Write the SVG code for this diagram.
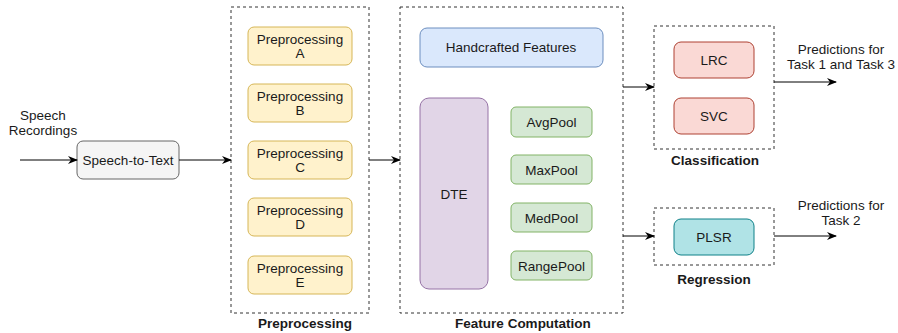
<svg xmlns="http://www.w3.org/2000/svg" width="898" height="333" viewBox="0 0 898 333">
  <style>
    text { font-family: "Liberation Sans", Arial, sans-serif; font-size: 13.5px; fill: #1a1a1a; text-anchor: middle; }
    .title { font-weight: bold; }
    .group { fill: none; stroke: #333; stroke-width: 1; stroke-dasharray: 3 3; }
    .stt { fill: #f5f5f5; stroke: #666; }
    .pre { fill: #fff2cc; stroke: #d6b656; }
    .hand { fill: #dae8fc; stroke: #6c8ebf; }
    .dte { fill: #e1d5e7; stroke: #9673a6; }
    .pool { fill: #d5e8d4; stroke: #82b366; }
    .cls { fill: #fad9d5; stroke: #ae4132; }
    .reg { fill: #b0e3e6; stroke: #0e8088; }
    .edge { fill: none; stroke: #000; stroke-width: 1; marker-end: url(#arrow); }
  </style>
  <defs>
    <marker id="arrow" viewBox="0 0 10 10" refX="9" refY="5" markerWidth="10" markerHeight="10" markerUnits="userSpaceOnUse" orient="auto">
      <path d="M0,1 L10,5 L0,9 L3,5 Z" fill="#000"/>
    </marker>
  </defs>

  <rect width="898" height="333" fill="#fff"/>

  <!-- input label -->
  <g id="input">
    <text x="43" y="120">Speech</text>
    <text x="43" y="135">Recordings</text>
  </g>

  <g id="speech-to-text">
    <rect class="stt" x="77" y="141" width="102" height="38" rx="6"/>
    <text x="128" y="165">Speech-to-Text</text>
  </g>

  <!-- preprocessing stage -->
  <g id="preprocessing">
    <rect class="group" x="231" y="7" width="138" height="306"/>
    <text class="title" x="305" y="328">Preprocessing</text>
  </g>
  <g id="pre-a">
    <rect class="pre" x="248" y="27" width="104" height="38" rx="6"/>
    <text x="300" y="44">Preprocessing</text>
    <text x="300" y="58">A</text>
  </g>
  <g id="pre-b">
    <rect class="pre" x="248" y="84" width="104" height="38" rx="6"/>
    <text x="300" y="101">Preprocessing</text>
    <text x="300" y="115">B</text>
  </g>
  <g id="pre-c">
    <rect class="pre" x="248" y="141" width="104" height="38" rx="6"/>
    <text x="300" y="158">Preprocessing</text>
    <text x="300" y="172">C</text>
  </g>
  <g id="pre-d">
    <rect class="pre" x="248" y="198" width="104" height="38" rx="6"/>
    <text x="300" y="215">Preprocessing</text>
    <text x="300" y="229">D</text>
  </g>
  <g id="pre-e">
    <rect class="pre" x="248" y="256" width="104" height="38" rx="6"/>
    <text x="300" y="273">Preprocessing</text>
    <text x="300" y="287">E</text>
  </g>

  <!-- feature computation stage -->
  <g id="feature-computation">
    <rect class="group" x="400" y="7" width="223" height="306"/>
    <text class="title" x="523" y="328">Feature Computation</text>
  </g>
  <g id="handcrafted">
    <rect class="hand" x="420" y="28" width="183" height="39" rx="7"/>
    <text x="511" y="52">Handcrafted Features</text>
  </g>
  <g id="dte">
    <rect class="dte" x="420" y="98" width="68" height="191" rx="9"/>
    <text x="454" y="199">DTE</text>
  </g>
  <g id="avgpool">
    <rect class="pool" x="511" y="107" width="81" height="30" rx="5"/>
    <text x="551.5" y="127">AvgPool</text>
  </g>
  <g id="maxpool">
    <rect class="pool" x="511" y="155" width="81" height="29" rx="5"/>
    <text x="551.5" y="175">MaxPool</text>
  </g>
  <g id="medpool">
    <rect class="pool" x="511" y="203" width="81" height="29" rx="5"/>
    <text x="551.5" y="223">MedPool</text>
  </g>
  <g id="rangepool">
    <rect class="pool" x="511" y="251" width="81" height="29" rx="5"/>
    <text x="551.5" y="271">RangePool</text>
  </g>

  <!-- classification stage -->
  <g id="classification">
    <rect class="group" x="654" y="26" width="120" height="123"/>
    <text class="title" x="715" y="165">Classification</text>
  </g>
  <g id="lrc">
    <rect class="cls" x="674" y="42" width="80" height="36" rx="7"/>
    <text x="714" y="65">LRC</text>
  </g>
  <g id="svc">
    <rect class="cls" x="674" y="98" width="80" height="36" rx="7"/>
    <text x="714" y="121">SVC</text>
  </g>

  <!-- regression stage -->
  <g id="regression">
    <rect class="group" x="654" y="208" width="120" height="57"/>
    <text class="title" x="714" y="284">Regression</text>
  </g>
  <g id="plsr">
    <rect class="reg" x="674" y="219" width="80" height="36" rx="7"/>
    <text x="714" y="242">PLSR</text>
  </g>

  <!-- outputs -->
  <g id="output-classification">
    <text x="841" y="54">Predictions for</text>
    <text x="841" y="69">Task 1 and Task 3</text>
  </g>
  <g id="output-regression">
    <text x="841" y="210">Predictions for</text>
    <text x="841" y="225">Task 2</text>
  </g>

  <g id="connectors">
    <path class="edge" d="M20,160 H77"/>
    <path class="edge" d="M179,160 H231"/>
    <path class="edge" d="M369,160 H400"/>
    <path class="edge" d="M623,87 H654"/>
    <path class="edge" d="M623,236 H654"/>
    <path class="edge" d="M774,82 H836"/>
    <path class="edge" d="M774,236 H836"/>
  </g>
</svg>
